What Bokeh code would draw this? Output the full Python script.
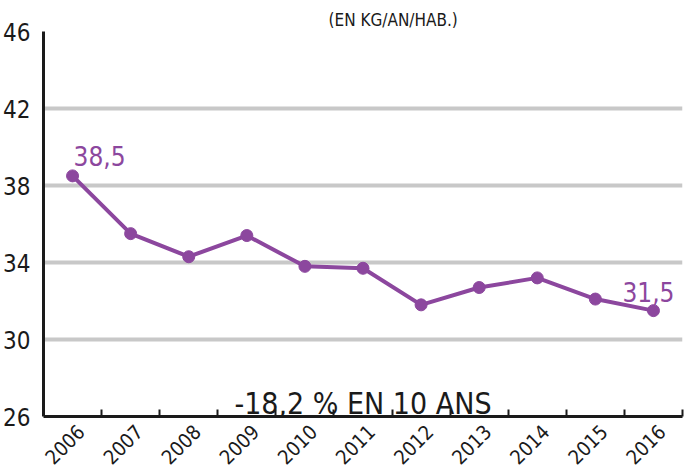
import math
from bokeh.plotting import figure
from bokeh.models import FixedTicker, Label, ColumnDataSource, Range1d
from bokeh.core.properties import value
from bokeh.embed import file_html
from bokeh.resources import INLINE

years = [2006, 2007, 2008, 2009, 2010, 2011, 2012, 2013, 2014, 2015, 2016]
kg_per_hab = [38.5, 35.5, 34.3, 35.4, 33.8, 33.7, 31.8, 32.7, 33.2, 32.1, 31.5]
y_ticks = [26, 30, 34, 38, 42, 46]
end_labels = ["38,5", "31,5"]
subtitle = "(EN KG/AN/HAB.)"
headline = "-18,2 % EN 10 ANS"

FONT = "'DejaVu Sans Condensed', 'DejaVu Sans', sans-serif"
PURPLE = "#8c479e"
INK = "#1a1a1a"

p = figure(width=684, height=473, output_backend="svg", toolbar_location=None,
           x_range=Range1d(years[0] - 0.5, years[-1] + 0.5),
           y_range=Range1d(y_ticks[0], y_ticks[-1]),
           min_border_left=42, min_border_right=2, min_border_top=31, min_border_bottom=57)
p.outline_line_color = None
p.background_fill_color = "white"

p.title.text = subtitle
p.title.text_font = FONT
p.title.text_font_size = "17px"
p.title.text_font_style = "normal"
p.title.text_color = INK
p.title.align = "left"
p.title.offset = 285
p.title.standoff = 4

# grid
p.xgrid.visible = False
p.ygrid.grid_line_color = "#c8c8c8"
p.ygrid.grid_line_width = 4

# y axis
p.yaxis.ticker = FixedTicker(ticks=y_ticks)
p.yaxis.axis_line_color = INK
p.yaxis.axis_line_width = 3
p.yaxis.major_tick_line_color = None
p.yaxis.minor_tick_line_color = None
p.yaxis.major_label_text_font = FONT
p.yaxis.major_label_text_font_size = "24px"
p.yaxis.major_label_text_color = INK
p.yaxis.major_label_standoff = 7

# x axis
p.xaxis.ticker = FixedTicker(ticks=[y + 0.15 for y in years],
                             minor_ticks=[y + 0.5 for y in years])
p.xaxis.major_label_overrides = {y + 0.15: str(y) for y in years}
p.xaxis.major_label_orientation = math.pi / 4
p.xaxis.axis_line_color = INK
p.xaxis.axis_line_width = 3
p.xaxis.major_tick_line_color = None
p.xaxis.minor_tick_line_color = INK
p.xaxis.minor_tick_line_width = 2
p.xaxis.minor_tick_in = 7
p.xaxis.minor_tick_out = 0
p.xaxis.major_label_text_font = FONT
p.xaxis.major_label_text_font_size = "20px"
p.xaxis.major_label_text_color = INK
p.xaxis.major_label_standoff = 6

src = ColumnDataSource(dict(x=years, y=kg_per_hab))
p.line("x", "y", source=src, line_color=PURPLE, line_width=4)
p.scatter("x", "y", source=src, size=12, color=PURPLE)

first_src = ColumnDataSource(dict(x=[years[0]], y=[kg_per_hab[0]], t=[end_labels[0]]))
p.text("x", "y", text="t", source=first_src, x_offset=1, y_offset=-20,
       text_font=value(FONT), text_font_size="26px", text_color=PURPLE,
       text_align="left", text_baseline="alphabetic")

last_src = ColumnDataSource(dict(x=[years[-1]], y=[kg_per_hab[-1]], t=[end_labels[1]]))
p.text("x", "y", text="t", source=last_src, x_offset=21, y_offset=-19,
       text_font=value(FONT), text_font_size="26px", text_color=PURPLE,
       text_align="right", text_baseline="alphabetic")

p.add_layout(Label(x=(years[0] + years[-1]) / 2, y=26.68, text=headline,
                   text_font=FONT, text_font_size="30px", text_color=INK,
                   text_align="center", text_baseline="alphabetic"))

open("out.html", "w").write(file_html(p, INLINE))
